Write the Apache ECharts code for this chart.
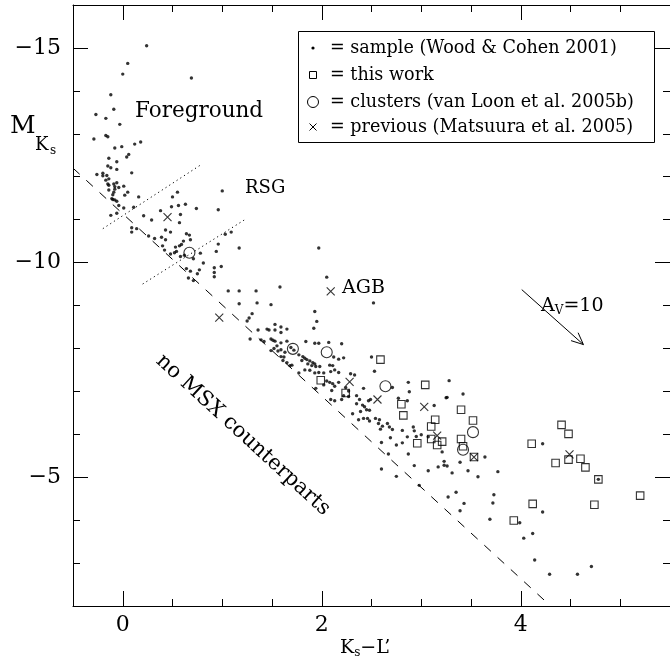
<!DOCTYPE html>
<html>
<head>
<meta charset="utf-8">
<script src="https://cdn.jsdelivr.net/npm/echarts@6/dist/echarts.min.js"></script>
<style>
  html, body { margin: 0; padding: 0; background: #fff; }
  #chart { width: 670px; height: 672px; }
</style>
</head>
<body>
<div id="chart"></div>
<script>
// Colour–magnitude diagram: K_s - L' against absolute K_s magnitude.

// [K_s - L', M_Ks] for the comparison sample (Wood & Cohen 2001)
const sampleStars = [
  [0.24,-15.05],[0.05,-14.64],[0.00,-14.39],[0.69,-14.30],[-0.12,-13.91],[-0.09,-13.57],[-0.27,-13.45],
  [-0.17,-13.36],[-0.03,-13.22],[-0.29,-12.88],[-0.17,-12.96],[-0.15,-12.93],[-0.08,-12.67],[-0.01,-12.70],
  [0.12,-12.76],[0.18,-12.81],[0.06,-12.52],[0.04,-12.46],[-0.14,-12.43],[-0.06,-12.35],[-0.15,-12.25],
  [-0.12,-12.21],[-0.06,-12.17],
  [-0.26,-12.05],[-0.20,-12.08],[-0.20,-12.02],[-0.16,-12.03],[-0.14,-11.95],[-0.17,-11.92],[0.09,-12.09],
  [-0.06,-11.86],[-0.09,-11.83],[-0.15,-11.83],[-0.14,-11.80],[-0.08,-11.77],[-0.04,-11.75],[-0.08,-11.71],
  [0.01,-11.78],[-0.14,-11.69],[-0.09,-11.64],[-0.10,-11.58],[0.05,-11.64],[0.02,-11.57],[-0.11,-11.49],
  [-0.10,-11.47],[-0.08,-11.46],[-0.06,-11.43],[0.16,-11.53],[0.50,-11.53],[0.55,-11.64],[0.49,-11.30],
  [0.56,-11.33],[0.63,-11.36],[-0.04,-11.33],[0.01,-11.27],[0.11,-11.29],[0.74,-11.26],[0.96,-11.23],
  [1.00,-11.67],[0.38,-11.21],[-0.06,-11.15],[-0.12,-11.10],[0.21,-11.09],[0.29,-10.99],[0.58,-11.12],
  [0.57,-10.93],[0.09,-10.81],[0.14,-10.79],[0.09,-10.71],[0.43,-10.76],[0.48,-10.71],[0.26,-10.62],
  [0.32,-10.56],[0.39,-10.59],[0.43,-10.53],[0.64,-10.67],[0.67,-10.64],[0.68,-10.53],[0.61,-10.50],
  [0.59,-10.42],[0.53,-10.36],[0.57,-10.39],[0.54,-10.26],[0.52,-10.23],[0.48,-10.20],[0.58,-10.14],
  [0.62,-10.17],[0.71,-10.09],[0.78,-10.22],[0.40,-10.39],[0.42,-10.29],[0.81,-9.99],[0.77,-9.83],
  [0.64,-9.86],[0.68,-9.80],[0.75,-9.74],[0.66,-9.64],[0.71,-9.58],[0.92,-9.88],[0.92,-9.77],[0.92,-9.67],
  [0.99,-9.91],[0.94,-10.26],[0.96,-10.43],
  [1.17,-10.34],[1.09,-10.71],[1.03,-10.66],[1.97,-10.34],[2.05,-9.66],
  [1.06,-9.34],[1.17,-9.34],[1.34,-9.34],[1.58,-9.43],[1.17,-9.04],[1.35,-9.06],[1.49,-9.02],
  [1.93,-8.86],[1.95,-8.63],[1.30,-8.81],[1.27,-8.71],[1.25,-8.64],[1.92,-8.47],[2.52,-9.06],
  [1.36,-8.43],[1.45,-8.45],[1.47,-8.43],[1.53,-8.56],[1.53,-8.43],[1.59,-8.50],[1.65,-8.45],[1.59,-8.37],
  [1.28,-8.22],[1.39,-8.20],[1.42,-8.16],[1.49,-8.22],[1.51,-8.19],[1.53,-8.17],[1.65,-8.17],[1.59,-8.13],
  [1.55,-8.06],[1.52,-8.00],[1.49,-7.95],[1.56,-7.94],[1.59,-7.97],[1.63,-7.91],[1.62,-7.80],[1.59,-7.81],
  [1.61,-7.72],[1.65,-7.67],[1.68,-7.60],[1.70,-7.61],[1.69,-8.02],[1.72,-7.96],
  [1.84,-8.16],[1.93,-8.12],[1.97,-8.12],[2.07,-8.14],[2.20,-8.11],
  [1.77,-7.85],[1.81,-7.81],[1.83,-7.77],[1.85,-7.74],[1.88,-7.71],[1.91,-7.67],[1.93,-7.64],
  [1.80,-7.72],[1.86,-7.64],[1.90,-7.60],[1.94,-7.58],[1.98,-7.58],
  [2.12,-7.80],[2.17,-7.75],[2.22,-7.78],
  [2.08,-7.61],[2.11,-7.60],[2.13,-7.50],[2.09,-7.46],[2.17,-7.44],
  [1.77,-7.43],[1.83,-7.50],[1.88,-7.49],[1.93,-7.43],[1.97,-7.44],[2.02,-7.43],
  [2.05,-7.24],[2.08,-7.21],[2.11,-7.18],[2.02,-7.15],[1.94,-7.07],
  [2.17,-7.21],[2.13,-7.12],[2.10,-7.02],[2.09,-6.81],[2.13,-6.78],
  [2.29,-7.41],[2.33,-7.38],[2.24,-7.09],
  [2.27,-7.01],[2.22,-6.90],[2.27,-6.88],[2.20,-6.81],
  [2.35,-6.90],[2.38,-6.81],[2.35,-6.71],[2.41,-6.68],[2.43,-6.64],[2.45,-6.57],[2.48,-6.56],[2.39,-6.53],
  [2.47,-6.78],[2.49,-6.81],[2.42,-7.07],
  [2.31,-6.48],[2.37,-6.34],[2.42,-6.37],[2.46,-6.37],[2.48,-6.31],[2.54,-6.37],[2.58,-6.34],[2.57,-6.25],
  [2.61,-6.19],[2.59,-6.12],[2.66,-6.25],[2.68,-6.17],[2.71,-6.11],
  [2.50,-7.80],[2.53,-7.47],[2.71,-7.09],[2.77,-6.84],[2.86,-6.78],[2.87,-7.21],[2.88,-6.99],[3.13,-6.67],
  [3.25,-6.85],
  [2.81,-6.09],[2.92,-6.17],[2.93,-6.08],[2.86,-5.94],[2.95,-5.95],[3.00,-5.99],
  [2.69,-5.92],[2.75,-5.75],[2.81,-5.80],[2.60,-5.81],[3.07,-5.94],
  [2.67,-5.54],[2.87,-5.54],[3.21,-5.59],[2.93,-5.27],
  [3.17,-5.24],[3.23,-5.28],[3.26,-5.26],[3.23,-5.37],[3.31,-5.10],[3.39,-5.35],[3.47,-5.15],[3.57,-5.01],
  [3.77,-5.13],[2.98,-4.81],[3.27,-4.54],[3.35,-4.65],[3.43,-4.39],[3.39,-4.22],[3.73,-4.59],[3.72,-4.40],
  [3.69,-4.02],[3.99,-3.94],[4.22,-4.19],[4.03,-3.58],[4.12,-3.69],[4.14,-3.07],[4.29,-2.74],[4.57,-2.74],
  [4.71,-2.92],[4.22,-5.78],[3.64,-5.47],[3.28,-7.25],[3.42,-6.94],[3.26,-6.86],[3.07,-5.15],
  [2.75,-5.02],[2.60,-5.19],[4.78,-4.95]
];

// [K_s - L', M_Ks] for the stars of this work
const thisWork = [
  [1.99,-7.26],[2.24,-6.96],[2.59,-7.74],[2.80,-6.70],[2.82,-6.44],[3.04,-7.15],[2.96,-5.79],[3.14,-6.34],
  [3.10,-6.18],[3.10,-5.89],[3.21,-5.83],[3.16,-5.75],[3.40,-6.57],[3.52,-6.32],[3.40,-5.89],[3.42,-5.72],
  [3.53,-5.47],[4.11,-5.78],[4.41,-6.22],[4.48,-6.01],[4.48,-5.41],[4.35,-5.33],[4.60,-5.43],[4.65,-5.23],
  [4.78,-4.95],[5.20,-4.57],[4.74,-4.36],[4.12,-4.38],[3.93,-3.99]
];

// [K_s - L', M_Ks] for cluster members (van Loon et al. 2005b)
const clusterStars = [
  [0.67,-10.23],[1.71,-7.99],[2.05,-7.91],[2.64,-7.12],[3.52,-6.05],[3.42,-5.64]
];

// [K_s - L', M_Ks] for earlier targets (Matsuura et al. 2005)
const previousStars = [
  [0.45,-11.06],[2.09,-9.33],[0.97,-8.72],[2.28,-7.22],[2.56,-6.81],[3.03,-6.64],[3.16,-5.97],
  [3.53,-5.47],[4.49,-5.53]
];

// Guide lines in data units
const msxLimit = [[-0.5,-12.2],[4.3,-2.0]];
const upperDivider = [[-0.2,-10.79],[0.8,-12.30]];
const lowerDivider = [[0.2,-9.50],[1.22,-10.99]];
const extinctionVector = [[4.01,-9.37,4.63,-8.09]];

// Tick positions
const xMajorTicks = [0, 2, 4];
const xMinorTicks = [0.5, 1, 1.5, 2.5, 3, 3.5, 4.5, 5];
const yMajorTicks = [-15, -10, -5];
const yMinorTicks = [-14, -13, -12, -11, -9, -8, -7, -6, -4, -3];

const SERIF = '"DejaVu Serif", "Liberation Serif", serif';
const INK = '#000';

function fmtTick(v) {
  return v < 0 ? '\u2212' + Math.abs(v) : String(v);
}

function xAxisDef(position, ticks, len, withLabels, withLine) {
  return {
    type: 'value', min: -0.5, max: 5.5, position: position,
    axisLine: { show: withLine, onZero: false, lineStyle: { color: INK, width: 1 } },
    axisTick: { show: true, inside: true, length: len, customValues: ticks, lineStyle: { color: INK, width: 1 } },
    axisLabel: withLabels ? {
      show: true, customValues: ticks, margin: 8, fontSize: 22, color: INK,
      fontFamily: SERIF, formatter: fmtTick
    } : { show: false },
    splitLine: { show: false }
  };
}

function yAxisDef(position, ticks, len, withLabels, withLine) {
  return {
    type: 'value', min: -16, max: -2, inverse: true, position: position,
    axisLine: { show: withLine, onZero: false, lineStyle: { color: INK, width: 1 } },
    axisTick: { show: true, inside: true, length: len, customValues: ticks, lineStyle: { color: INK, width: 1 } },
    axisLabel: withLabels ? {
      show: true, customValues: ticks, margin: 12, fontSize: 22, color: INK,
      fontFamily: SERIF, formatter: fmtTick
    } : { show: false },
    splitLine: { show: false }
  };
}

function guideLine(points, dash) {
  return {
    type: 'line', data: points, showSymbol: false, silent: true, z: 1,
    lineStyle: { color: INK, width: 1, type: dash }
  };
}

const hollow = { color: 'rgba(0,0,0,0)', borderColor: INK, borderWidth: 1.1 };

// Legend rows
const legendRows = [
  '= sample (Wood & Cohen 2001)',
  '= this work',
  '= clusters (van Loon et al. 2005b)',
  '= previous (Matsuura et al. 2005)'
];
const legendY = [48, 75, 102, 127];

const legendGraphics = [
  { type: 'rect', shape: { x: 298.5, y: 31.5, width: 356, height: 111 },
    style: { fill: '#fff', stroke: INK, lineWidth: 1 }, z: 10 },
  { type: 'circle', shape: { cx: 313, cy: legendY[0], r: 1.6 }, style: { fill: INK }, z: 11 },
  { type: 'rect', shape: { x: 309.5, y: legendY[1] - 3.5, width: 7, height: 7 },
    style: { fill: 'none', stroke: INK, lineWidth: 1 }, z: 11 },
  { type: 'circle', shape: { cx: 313, cy: legendY[2], r: 5.5 },
    style: { fill: 'none', stroke: INK, lineWidth: 1 }, z: 11 },
  { type: 'polyline', shape: { points: [[309.5, legendY[3] - 3.5], [316.5, legendY[3] + 3.5]] },
    style: { stroke: INK, lineWidth: 1 }, z: 11 },
  { type: 'polyline', shape: { points: [[316.5, legendY[3] - 3.5], [309.5, legendY[3] + 3.5]] },
    style: { stroke: INK, lineWidth: 1 }, z: 11 }
].concat(legendRows.map((t, i) => ({
  type: 'text', x: 330, y: legendY[i], z: 11,
  style: { text: t, fill: INK, font: '17.6px ' + SERIF, align: 'left', verticalAlign: 'middle' }
})));

const labelGraphics = [
  { type: 'text', x: 135, y: 111, style: { text: 'Foreground', fill: INK, font: '21.5px ' + SERIF, align: 'left', verticalAlign: 'middle' } },
  { type: 'text', x: 245, y: 188, style: { text: 'RSG', fill: INK, font: '18px ' + SERIF, align: 'left', verticalAlign: 'middle' } },
  { type: 'text', x: 342, y: 288, style: { text: 'AGB', fill: INK, font: '19px ' + SERIF, align: 'left', verticalAlign: 'middle' } },
  { type: 'text', x: 541, y: 306, style: {
      text: '{a|A}{v|V}{a|=10}', align: 'left', verticalAlign: 'middle',
      rich: {
        a: { fontFamily: SERIF, fontSize: 19, fill: INK },
        v: { fontFamily: SERIF, fontSize: 12, fill: INK, padding: [10, 0, 0, 0] }
      } } },
  { type: 'text', x: 243, y: 435, rotation: -42.5 * Math.PI / 180,
    style: { text: 'no MSX counterparts', fill: INK, font: '21px ' + SERIF, align: 'center', verticalAlign: 'middle' } },
  // y-axis title M_{K_s}
  { type: 'text', x: 10, y: 126, style: { text: 'M', fill: INK, font: '25px ' + SERIF, align: 'left', verticalAlign: 'middle' } },
  { type: 'text', x: 35, y: 145, style: { text: 'K', fill: INK, font: '18px ' + SERIF, align: 'left', verticalAlign: 'middle' } },
  { type: 'text', x: 50, y: 151, style: { text: 's', fill: INK, font: '12px ' + SERIF, align: 'left', verticalAlign: 'middle' } },
  // x-axis title K_s - L'
  { type: 'text', x: 340, y: 648, style: {
      text: "{a|K}{s|s}{a|\u2212L\u2019}", align: 'left', verticalAlign: 'middle',
      rich: {
        a: { fontFamily: SERIF, fontSize: 19, fill: INK },
        s: { fontFamily: SERIF, fontSize: 12, fill: INK, padding: [10, 0, 0, 0] }
      } } }
];

const chart = echarts.init(document.getElementById('chart'), null, { renderer: 'canvas' });
chart.setOption({
  animation: false,
  backgroundColor: '#fff',
  grid: { left: 73, top: 5, width: 600, height: 601, containLabel: false },
  xAxis: [
    xAxisDef('bottom', xMajorTicks, 15, true, true),
    xAxisDef('bottom', xMinorTicks, 7, false, false),
    xAxisDef('top', xMajorTicks, 15, false, true),
    xAxisDef('top', xMinorTicks, 7, false, false)
  ],
  yAxis: [
    yAxisDef('left', yMajorTicks, 15, true, true),
    yAxisDef('left', yMinorTicks, 7, false, false),
    yAxisDef('right', yMajorTicks, 15, false, true),
    yAxisDef('right', yMinorTicks, 7, false, false)
  ],
  series: [
    guideLine(msxLimit, [9, 9]),
    guideLine(upperDivider, [1.2, 3.2]),
    guideLine(lowerDivider, [1.2, 3.2]),
    {
      type: 'custom', data: extinctionVector, silent: true,
      encode: { x: [0, 2], y: [1, 3] },
      renderItem: function (params, api) {
        const a = api.coord([api.value(0), api.value(1)]);
        const b = api.coord([api.value(2), api.value(3)]);
        const ang = Math.atan2(b[1] - a[1], b[0] - a[0]);
        const L = 13, w = 0.42;
        const h1 = [b[0] - L * Math.cos(ang - w), b[1] - L * Math.sin(ang - w)];
        const h2 = [b[0] - L * Math.cos(ang + w), b[1] - L * Math.sin(ang + w)];
        return {
          type: 'group', children: [
            { type: 'line', shape: { x1: a[0], y1: a[1], x2: b[0], y2: b[1] }, style: { stroke: INK, lineWidth: 1 } },
            { type: 'polyline', shape: { points: [h1, b, h2] }, style: { stroke: INK, fill: null, lineWidth: 1 } }
          ]
        };
      }
    },
    {
      name: 'sample', type: 'scatter', data: sampleStars, symbol: 'circle', symbolSize: 3.4,
      itemStyle: { color: INK }, z: 3
    },
    {
      name: 'this work', type: 'scatter', data: thisWork, symbol: 'rect', symbolSize: 7.5,
      itemStyle: hollow, z: 4
    },
    {
      name: 'clusters', type: 'scatter', data: clusterStars, symbol: 'circle', symbolSize: 11,
      itemStyle: hollow, z: 4
    },
    {
      name: 'previous', type: 'scatter', data: previousStars, symbol: 'path://M0,0L10,10M10,0L0,10',
      symbolSize: 8, itemStyle: { color: 'none', borderColor: INK, borderWidth: 1.1 }, z: 4
    }
  ],
  graphic: legendGraphics.concat(labelGraphics)
});
</script>
</body>
</html>
